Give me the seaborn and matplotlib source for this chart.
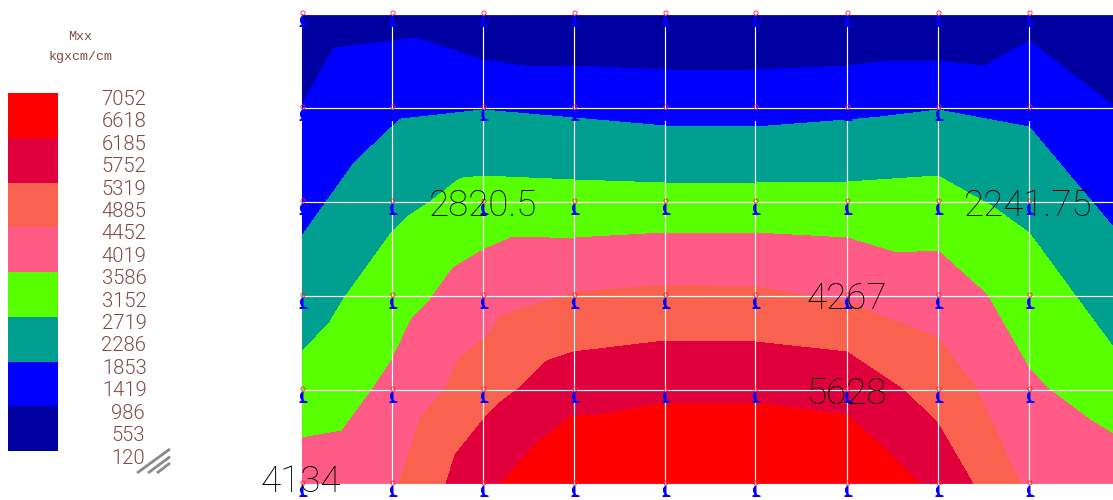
import numpy as np
import pandas as pd
import matplotlib
matplotlib.use("Agg")
import matplotlib.pyplot as plt
from matplotlib.colors import ListedColormap
from matplotlib.path import Path
import seaborn as sns

# ---- data -----
title_lines = ["Mxx", "kgxcm/cm"]
legend_labels = ["7052", "6618", "6185", "5752", "5319", "4885", "4452", "4019", "3586",
                 "3152", "2719", "2286", "1853", "1419", "986", "553", "120"]
band_colors = ["#FF0000", "#E0003C", "#F8624F", "#FF5B87", "#58FF00", "#009F8F", "#0000FF", "#0000A0"]

grid_x = [302, 392, 483, 574, 665, 755, 847, 938, 1029]
grid_y = [14, 108, 202, 296, 390, 484]

blue_x = [302, 334, 392, 416, 483, 530, 574, 665, 755, 847, 890, 945, 985, 1029, 1113]
blue_y = [105, 48, 41, 38, 60, 67, 66, 70, 70, 66, 61, 62, 66, 41, 106]
teal_x = [302, 354, 392, 401, 483, 574, 665, 755, 847, 880, 938, 1029, 1113]
teal_y = [236, 163, 127, 119, 110, 118, 126, 127, 120, 117, 110, 127, 227]
green_x = [302, 330, 343, 392, 407, 430, 458, 463, 483, 574, 665, 755, 847, 938, 993, 1029, 1113]
green_y = [352, 322, 300, 232, 217, 202, 180, 178, 176, 180, 183, 183, 182, 176, 207, 233, 347]
pink_x = [302, 342, 372, 392, 412, 430, 453, 483, 513, 550, 574, 665, 755, 847, 897, 938, 987, 1028, 1047, 1090, 1113]
pink_y = [438, 431, 390, 360, 318, 300, 268, 250, 237, 238, 238, 233, 233, 238, 253, 251, 295, 367, 388, 420, 434]
orange_x = [399, 420, 445, 458, 490, 500, 574, 665, 755, 847, 938, 975, 997, 1010, 1021]
orange_y = [484, 418, 389, 360, 333, 316, 292, 285, 287, 302, 338, 387, 433, 463, 484]
crimson_x = [446, 455, 483, 497, 518, 547, 573, 665, 755, 847, 902, 937, 973]
crimson_y = [484, 455, 420, 405, 389, 361, 352, 341, 342, 352, 389, 422, 484]
red_x = [500, 537, 573, 600, 665, 755, 847, 877, 920]
red_y = [484, 443, 415, 415, 403, 403, 415, 442, 484]

notes = ["2820.5", "2241.75", "4267", "5628", "4134"]
note_x = [483.5, 1028.5, 846.5, 847, 301]
note_y = [216, 216, 309, 404, 492]

# ---- figure -----
sns.set_theme(style="white")
plt.rcParams["font.family"] = ["Liberation Mono", "DejaVu Sans"]
fig = plt.figure(figsize=(11.13, 5.0), dpi=100, facecolor="white")
ax = fig.add_axes([0, 0, 1, 1])
ax.set_xlim(0, 1113)
ax.set_ylim(500, 0)
ax.axis("off")

# contour bands, painted from the outermost inwards
ax.fill([grid_x[0], 1113, 1113, grid_x[0]], [grid_y[0], grid_y[0], grid_y[-1], grid_y[-1]],
        color=band_colors[7], lw=0, antialiased=False, zorder=1)
curves = [(blue_x, blue_y, 6), (teal_x, teal_y, 5), (green_x, green_y, 4), (pink_x, pink_y, 3),
          (orange_x, orange_y, 2), (crimson_x, crimson_y, 1), (red_x, red_y, 0)]
for cx, cy, ci in curves:
    ax.fill(cx + [cx[-1], cx[0]], cy + [grid_y[-1], grid_y[-1]], color=band_colors[ci],
            lw=0, antialiased=False, zorder=2 + (6 - ci) * 0.01)

# mesh lines
for gx in grid_x[1:]:
    ax.plot([gx, gx], [grid_y[0], grid_y[-1]], color="white", lw=0.85, zorder=3, solid_capstyle="butt")
for gy in grid_y:
    ax.plot([grid_x[0], 1113], [gy, gy], color="white", lw=0.85, zorder=3, solid_capstyle="butt")

# mesh nodes: support glyph and node circle
nodes = pd.DataFrame([(a, b) for a in grid_x for b in grid_y], columns=["x", "y"])
glyph = Path([(-0.5, -1), (1, -1), (1, -8), (1.5, -10), (5, -11), (5, -12.5), (-3, -12.5), (-3, -11),
              (-1, -10), (-2.5, -7), (-2.5, -4), (-0.5, -1)], closed=True)
sns.scatterplot(data=nodes, x="x", y="y", marker=glyph, s=324, color="#0000FF", linewidth=0,
                ax=ax, zorder=4, legend=False)
ax.scatter(nodes["x"] + 1, nodes["y"] - 1, s=9, facecolor="none", edgecolor="#FF2030",
           linewidth=0.6, zorder=5)
ax.set_xlim(0, 1113)
ax.set_ylim(500, 0)
ax.axis("off")

# large annotations
for t, tx, ty in zip(notes, note_x, note_y):
    ax.text(tx, ty, t, ha="center", va="baseline", fontsize=26.5, color="black",
            family=["Roboto", "DejaVu Sans"], fontweight=100, zorder=6)

# legend text
brown = "#7F4A44"
for t, ty in zip(title_lines, [37, 57]):
    ax.text(80, ty, t, ha="center", va="center", fontsize=9.6, color=brown)
for t, ty in zip(legend_labels, np.linspace(99.5, 458, len(legend_labels))):
    ax.text(146.5 if len(t) == 4 else 144.5, ty, t, ha="right", va="center", fontsize=14.6,
            color=brown, family=["Roboto", "DejaVu Sans"], fontweight=300)

# hatch mark beside the legend
for x0, y0 in [(137, 473), (148, 473), (157, 473)]:
    ax.plot([x0, 170], [y0, 449 + (x0 - 137) * 0.7], color="#8A8A8A", lw=2.0, solid_capstyle="butt", zorder=2)

# legend colour strip
ax_leg = fig.add_axes([8 / 1113, 49 / 500, 50 / 1113, 358 / 500])
sns.heatmap(np.arange(len(band_colors)).reshape(-1, 1), cmap=ListedColormap(band_colors), cbar=False,
            ax=ax_leg, xticklabels=False, yticklabels=False, linewidths=0)
ax_leg.set_xlabel("")
ax_leg.set_ylabel("")

fig.savefig("out.png", dpi=100)
